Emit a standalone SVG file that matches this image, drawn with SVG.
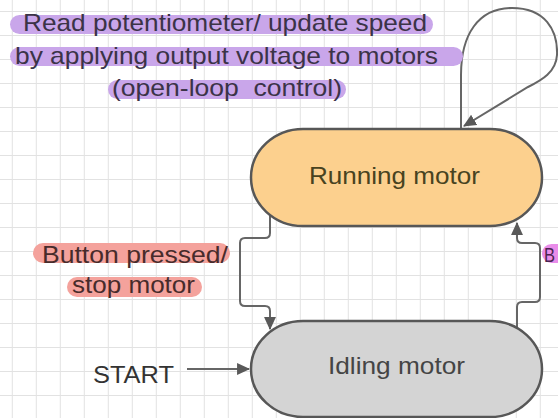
<svg xmlns="http://www.w3.org/2000/svg" width="558" height="418" viewBox="0 0 558 418">
  <style>
    text { font-family: "Liberation Sans", Arial, sans-serif; font-size: 24px; }
    .node { stroke: #575757; stroke-width: 2.5; }
    .conn { fill: none; stroke: #666666; stroke-width: 2; }
    .hl-purple { fill: #c9a6ea; }
    .hl-red { fill: #f4a29c; }
    .hl-pink { fill: #e98ce9; }
  </style>
  <defs>
    <pattern id="grid" x="11.8" y="11" width="24" height="24" patternUnits="userSpaceOnUse">
      <path d="M0.5,0 V24 M0,0.5 H24" fill="none" stroke="#e2e2e2" stroke-width="1"/>
    </pattern>
    <marker id="ah" viewBox="0 0 12 12" refX="11" refY="6" markerWidth="13" markerHeight="13" markerUnits="userSpaceOnUse" orient="auto">
      <path d="M0,0.5 L12,6 L0,11.5 z" fill="#595959"/>
    </marker>
  </defs>

  <rect width="558" height="418" fill="#ffffff"/>
  <rect width="558" height="418" fill="url(#grid)"/>

  <g id="connectors">
    <path class="conn" d="M461,129 V75 C461,35 478,8 512,8 C545,8 558,30 557,55 C556,72 542,80 528,87 L464,126" marker-end="url(#ah)"/>
    <path class="conn" d="M270,214 V233 Q270,238 265,238 H245 Q240,238 240,243 V301 Q240,306 245,306 H265 Q270,306 270,311 V329" marker-end="url(#ah)"/>
    <path class="conn" d="M517,327 V307 Q517,302 522,302 H535 Q540,302 540,297 V248 Q540,243 535,243 H522 Q517,243 517,238 V223" marker-end="url(#ah)"/>
    <path class="conn" d="M187,369 H249" marker-end="url(#ah)"/>
  </g>

  <g id="running">
    <rect class="node" x="251" y="129" width="291" height="97" rx="52" ry="48.5" fill="#fcd08e"/>
    <text x="394.5" y="184" text-anchor="middle" fill="#48431f" textLength="171" lengthAdjust="spacingAndGlyphs">Running motor</text>
  </g>

  <g id="idling">
    <rect class="node" x="251" y="321" width="291" height="96" rx="52" ry="48" fill="#d4d4d4"/>
    <text x="396.5" y="374" text-anchor="middle" fill="#454545" textLength="137" lengthAdjust="spacingAndGlyphs">Idling motor</text>
  </g>

  <g id="label-running">
    <rect class="hl-purple" x="10" y="15" width="423" height="19" rx="9.5"/>
    <rect class="hl-purple" x="10" y="47" width="453" height="19" rx="9.5"/>
    <rect class="hl-purple" x="108" y="80" width="238" height="19" rx="9.5"/>
    <text x="23" y="31" fill="#3b3347" textLength="404" lengthAdjust="spacingAndGlyphs">Read potentiometer/ update speed</text>
    <text x="15" y="64" fill="#3b3347" textLength="423" lengthAdjust="spacingAndGlyphs">by applying output voltage to motors</text>
    <text x="112" y="96" fill="#3b3347" textLength="230" lengthAdjust="spacingAndGlyphs" xml:space="preserve">(open-loop  control)</text>
  </g>

  <g id="label-stop">
    <rect class="hl-red" x="33" y="243" width="197" height="20" rx="10"/>
    <rect class="hl-red" x="67" y="277" width="135" height="20" rx="10"/>
    <text x="42" y="263" fill="#472b2b" textLength="186" lengthAdjust="spacingAndGlyphs">Button pressed/</text>
    <text x="72" y="293" fill="#472b2b" textLength="123" lengthAdjust="spacingAndGlyphs">stop motor</text>
  </g>

  <g id="label-start-button">
    <rect class="hl-pink" x="542" y="244" width="30" height="19" rx="9.5"/>
    <text x="544" y="262" fill="#4a2450" style="font-size:21px" textLength="11" lengthAdjust="spacingAndGlyphs">B</text>
  </g>

  <g id="start">
    <text x="93" y="383" fill="#333333" textLength="81" lengthAdjust="spacingAndGlyphs">START</text>
  </g>
</svg>
